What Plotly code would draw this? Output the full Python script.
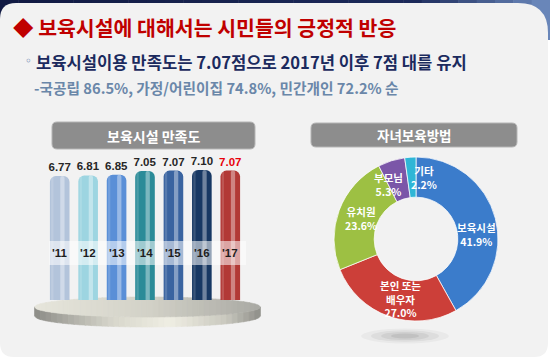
import plotly.graph_objects as go
import math

# ---------------- data ----------------
years = ["'11", "'12", "'13", "'14", "'15", "'16", "'17"]
satisfaction = [6.77, 6.81, 6.85, 7.05, 7.07, 7.10, 7.07]
bar_colors = ["#b3c4db", "#9dd5e1", "#5a8fd7", "#2b8b98", "#3a64a0", "#173863", "#b23936"]
value_colors = ["#262626"] * 6 + ["#e8000b"]

methods = ["보육시설", "본인 또는<br>배우자", "유치원", "부모님", "기타"]
shares = [41.9, 27.0, 23.6, 5.3, 2.2]
pie_colors = ["#3b7ccb", "#cc3f39", "#9dc043", "#7b56a8", "#2fb6d6"]

title_main = "◆ 보육시설에 대해서는 시민들의 긍정적 반응"
title_sub = "보육시설이용 만족도는 7.07점으로 2017년 이후 7점 대를 유지"
title_sub2 = "-국공립 86.5%, 가정/어린이집 74.8%, 민간개인 72.2% 순"
bar_title = "보육시설 만족도"
pie_title = "자녀보육방법"

W, H = 550, 359
KR = "Noto Sans CJK KR"


def px(x):
    return x / W


def py(y):
    return 1 - y / H


def P(x, y):
    return f"{px(x):.5f},{py(y):.5f}"


def rrect(x0, y0, x1, y1, tl, tr, br, bl):
    return (f"M {P(x0 + tl, y0)} L {P(x1 - tr, y0)} Q {P(x1, y0)} {P(x1, y0 + tr)} "
            f"L {P(x1, y1 - br)} Q {P(x1, y1)} {P(x1 - br, y1)} L {P(x0 + bl, y1)} "
            f"Q {P(x0, y1)} {P(x0, y1 - bl)} L {P(x0, y0 + tl)} Q {P(x0, y0)} {P(x0 + tl, y0)} Z")


def hex2rgb(h):
    h = h.lstrip("#")
    return tuple(int(h[i:i + 2], 16) for i in (0, 2, 4))


def grad(stops, t):
    for i in range(len(stops) - 1):
        t0, c0 = stops[i]
        t1, c1 = stops[i + 1]
        if t0 <= t <= t1:
            f = (t - t0) / (t1 - t0) if t1 > t0 else 0
            a, b = hex2rgb(c0), hex2rgb(c1)
            return "rgb(%d,%d,%d)" % tuple(round(a[k] + (b[k] - a[k]) * f) for k in range(3))
    return stops[-1][1]


shapes = []

# top navy band with gradient to the right
N = 30
for i in range(N):
    x0 = W * i / N
    x1 = W * (i + 1) / N + 0.5
    c = grad([(0, "#111a42"), (0.75, "#1c2a5a"), (1, "#6f8dc0")], (i + 0.5) / N)
    shapes.append(dict(type="rect", xref="paper", yref="paper", x0=px(x0), x1=px(x1),
                       y0=py(40), y1=py(0), fillcolor=c, line_width=0, layer="below"))

# grey panel
shapes.append(dict(type="path", xref="paper", yref="paper", path=rrect(0, 3, 548, 357, 16, 30, 14, 14),
                   fillcolor="#f2f2f2", line_width=0, layer="below"))

# platform (pedestal) under the bars
cx, rx = 147.5, 113.0
cy_top, ry_top = 307.0, 10.0
cy_bot, ry_bot = 316.0, 11.0
NS = 40


def strip(i, upper, lower):
    xa = cx - rx + 2 * rx * i / NS
    xb = cx - rx + 2 * rx * (i + 1) / NS + 0.4
    pu, pl = [], []
    for k in range(4):
        x = min(xa + (xb - xa) * k / 3, cx + rx)
        s = math.sqrt(max(0.0, 1 - ((x - cx) / rx) ** 2))
        pu.append((x, upper(s)))
        pl.append((x, lower(s)))
    return "M " + " L ".join(P(x, y) for x, y in pu) + " L " + " L ".join(P(x, y) for x, y in reversed(pl)) + " Z"


for i in range(NS):
    t = (i + 0.5) / NS
    col = grad([(0, "#8c8c87"), (0.35, "#d8d7cc"), (0.6, "#efeee3"), (0.85, "#c9c8be"), (1, "#8e8e89")], t)
    shapes.append(dict(type="path", xref="paper", yref="paper",
                       path=strip(i, lambda s: cy_top + ry_top * s, lambda s: cy_bot + ry_bot * s),
                       fillcolor=col, line=dict(color=col, width=0.6), layer="below"))
for i in range(NS):
    t = (i + 0.5) / NS
    col = grad([(0, "#e6e5db"), (0.5, "#d3d2c8"), (1, "#a9a9a3")], t)
    shapes.append(dict(type="path", xref="paper", yref="paper",
                       path=strip(i, lambda s: cy_top - ry_top * s, lambda s: cy_top + ry_top * s),
                       fillcolor=col, line=dict(color=col, width=0.6), layer="below"))

# donut shadow
for r, a in [(44, 0.035), (34, 0.05), (24, 0.06), (14, 0.07)]:
    shapes.append(dict(type="circle", xref="paper", yref="paper", x0=px(405 - r), x1=px(405 + r),
                       y0=py(336 + r * 0.17), y1=py(336 - r * 0.17),
                       fillcolor=f"rgba(0,0,0,{a})", line_width=0, layer="below"))

# title boxes
shapes.append(dict(type="path", xref="paper", yref="paper", path=rrect(52, 122, 255, 149, 5, 5, 5, 5),
                   fillcolor="#8d8d8d", line=dict(color="#b5b5b5", width=1), layer="below"))
shapes.append(dict(type="path", xref="paper", yref="paper", path=rrect(311, 123, 517, 147, 5, 5, 5, 5),
                   fillcolor="#8d8d8d", line=dict(color="#b5b5b5", width=1), layer="below"))

# year band over bars
shapes.append(dict(type="rect", xref="paper", yref="paper", x0=px(49), x1=px(246), y0=py(265), y1=py(241),
                   fillcolor="rgba(255,255,255,0.55)", line_width=0, layer="above"))

fig = go.Figure()

fig.add_trace(go.Bar(
    x=years, y=satisfaction, width=0.69,
    marker=dict(color=bar_colors, cornerradius=6, line_width=0),
    text=[f"{v:.2f}" for v in satisfaction], textposition="outside", constraintext="none",
    textfont=dict(family="Liberation Sans", size=11.5, color=value_colors, weight="bold"),
    cliponaxis=False, hoverinfo="skip", showlegend=False))
fig.add_trace(go.Bar(
    x=years, y=satisfaction, width=0.15, offset=0.02,
    marker=dict(color="rgba(255,255,255,0.38)", cornerradius=2, line_width=0),
    hoverinfo="skip", showlegend=False))
fig.add_trace(go.Bar(
    x=years, y=satisfaction, width=0.08, offset=-0.30,
    marker=dict(color="rgba(255,255,255,0.15)", cornerradius=0, line_width=0),
    hoverinfo="skip", showlegend=False))

fig.add_trace(go.Pie(
    labels=[m.replace("<br>", " ") for m in methods], values=shares, hole=0.51, sort=False,
    direction="clockwise", rotation=0,
    marker=dict(colors=pie_colors, line=dict(color="rgba(255,255,255,0.75)", width=1)),
    textinfo="none", hoverinfo="label+percent",
    domain=dict(x=[px(334), px(498)], y=[py(321), py(157)]), showlegend=False))

annotations = []
# headings
annotations.append(dict(xref="paper", yref="paper", x=px(11), y=py(27), xanchor="left", yanchor="middle",
                        text=f"<b>{title_main}</b>", showarrow=False,
                        font=dict(family=KR, size=20.5, color="#c00000")))
annotations.append(dict(xref="paper", yref="paper", x=px(23), y=py(61), xanchor="left", yanchor="middle",
                        text="◦", showarrow=False, font=dict(family="DejaVu Sans", size=12, color="#4a6fa5")))
annotations.append(dict(xref="paper", yref="paper", x=px(34), y=py(62), xanchor="left", yanchor="middle",
                        text=f"<b>{title_sub}</b>", showarrow=False,
                        font=dict(family=KR, size=16.6, color="#1b2a5e")))
annotations.append(dict(xref="paper", yref="paper", x=px(32), y=py(88), xanchor="left", yanchor="middle",
                        text=f"<b>{title_sub2}</b>", showarrow=False,
                        font=dict(family=KR, size=14.7, color="#6a87a9")))
annotations.append(dict(xref="paper", yref="paper", x=px(153.5), y=py(135.5), xanchor="center", yanchor="middle",
                        text=f"<b>{bar_title}</b>", showarrow=False,
                        font=dict(family=KR, size=14, color="white")))
annotations.append(dict(xref="paper", yref="paper", x=px(414), y=py(135), xanchor="center", yanchor="middle",
                        text=f"<b>{pie_title}</b>", showarrow=False,
                        font=dict(family=KR, size=13.5, color="white")))
# year labels
for yr in years:
    annotations.append(dict(xref="x", yref="paper", x=yr, y=py(253), xanchor="center", yanchor="middle",
                            text=f"<b>{yr}</b>", showarrow=False,
                            font=dict(family="Liberation Sans", size=11.5, color="#1e1e1e")))
# pie labels
label_pos = [(476, 234), (400, 299), (361, 218), (388, 184), (424, 177)]
for m, v, (lx, ly) in zip(methods, shares, label_pos):
    annotations.append(dict(xref="paper", yref="paper", x=px(lx), y=py(ly), xanchor="center", yanchor="middle",
                            text=f"<b>{m}<br>{v:.1f}%</b>", showarrow=False, align="center",
                            font=dict(family=KR, size=10.5, color="white")))

fig.update_layout(
    width=W, height=H, margin=dict(l=0, r=0, t=0, b=0),
    paper_bgcolor="white", plot_bgcolor="rgba(0,0,0,0)",
    barmode="overlay",
    xaxis=dict(domain=[px(45.5), px(244.5)], range=[-0.5, 6.5], visible=False, fixedrange=True),
    yaxis=dict(domain=[py(300), py(153.6)], range=[0, 8], visible=False, fixedrange=True),
    shapes=shapes, annotations=annotations, showlegend=False,
)

fig.write_html("out.html", config={"displayModeBar": False},
               post_script="document.body.style.margin='0px';document.body.style.overflow='hidden';")
